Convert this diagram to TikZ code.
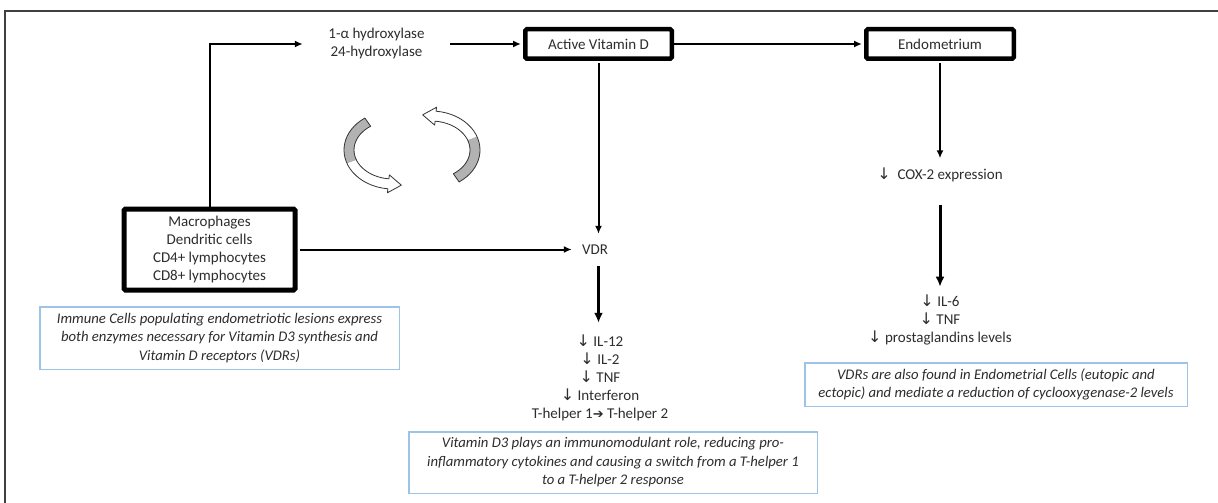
\documentclass[tikz,border=0pt]{standalone}
\usepackage{fontspec}
\setmainfont{Carlito}
\newfontfamily\symfont{DejaVu Sans}
\usetikzlibrary{arrows.meta,calc}
\definecolor{noteblue}{RGB}{157,195,230}
\definecolor{txtgray}{RGB}{45,45,45}
\newcommand{\dn}{{\symfont\fontsize{16}{18}\selectfont ↓}}
\newcommand{\rarr}{{\symfont\fontsize{13}{18}\selectfont ➔}}
\begin{document}
\begin{tikzpicture}[x=1pt,y=-1pt,
  txt/.style={font=\fontsize{15}{18}\selectfont, text=txtgray, align=center, inner sep=0pt},
  thickbox/.style={draw=black, line width=4.5pt, rounded corners=1.5pt, fill=white, align=center,
    font=\fontsize{15}{18}\selectfont, text=txtgray, inner sep=0pt},
  note/.style={draw=noteblue, line width=1.5pt, fill=white, align=center, inner sep=0pt,
    font=\fontsize{14.7}{18.5}\selectfont\itshape, text=txtgray},
  conn/.style={line width=2pt, draw=black, -{Latex[length=8pt,width=7pt]}},
  bigconn/.style={line width=3pt, draw=black, -{Latex[length=10pt,width=9pt]}},
  curvefill/.style={fill=white},
  curveshade/.style={fill=black!30},
  curveline/.style={draw=black!80, line width=0.8pt, line join=round},
]
\useasboundingbox (0,0) rectangle (1218,503);
% frame
\draw[line width=1.5pt, black!75] (5,503) -- (5,11) -- (1218,11);

% nodes
\node[txt, minimum width=147pt] (hyd) at (376.5,44) {1-α hydroxylase\\24-hydroxylase};
\node[thickbox, minimum width=146.5pt, minimum height=29.5pt] (act) at (598.5,44) {Active Vitamin D};
\node[thickbox, minimum width=147.5pt, minimum height=29.5pt] (endo) at (940,44) {Endometrium};
\node[thickbox, line width=5pt, minimum width=171pt, minimum height=81pt] (mac) at (209.5,249.5)
  {Macrophages\\Dendritic cells\\CD4+ lymphocytes\\CD8+ lymphocytes};
\node[txt, minimum width=46pt, minimum height=32pt] (vdr) at (595,250) {VDR};
\node[txt, inner ysep=12pt] (il) at (600,378)
  {\dn\ IL-12\\\dn\ IL-2\\\dn\ TNF\\\dn\ Interferon\\T-helper 1\rarr\ T-helper 2};
\node[txt, inner ysep=9.5pt] (cox) at (940,175) {\dn\ \ COX-2 expression};
\node[txt, inner ysep=8pt] (il6) at (940,320) {\dn\ IL-6\\\dn\ TNF\\\dn\ prostaglandins levels};

\node[note, minimum width=359.5pt, minimum height=62.5pt] (n1) at (219.5,338)
  {Immune Cells populating endometriotic lesions express\\both enzymes necessary for Vitamin D3 synthesis and\\Vitamin D receptors (VDRs)};
\node[note, minimum width=408.5pt, minimum height=61.5pt] (n2) at (613,462.5)
  {Vitamin D3 plays an immunomodulant role, reducing pro-\\inflammatory cytokines and causing a switch from a T-helper 1\\to a T-helper 2 response};
\node[note, minimum width=382.5pt, minimum height=43.5pt] (n3) at (996,384.5)
  {VDRs are also found in Endometrial Cells (eutopic and\\ectopic) and mediate a reduction of cyclooxygenase-2 levels};

% connectors
\draw[conn] (mac.north) |- (hyd.west);
\draw[conn, shorten >=2pt] (hyd.east) -- (act.west);
\draw[conn, shorten >=2pt] (act.east) -- (endo.west);
\draw[conn, shorten <=2pt] (act.south) -- (act.south |- vdr.north);
\draw[conn, shorten <=2pt] (mac.east) -- (mac.east -| vdr.west);
\draw[bigconn] (act.south |- vdr.south) -- (act.south |- il.north);
\draw[conn, shorten <=2pt] (endo.south) -- (endo.south |- cox.north);
\draw[bigconn, shorten <=13pt] (cox.south) -- (cox.south |- il6.north);

% circular block arrows
\coordinate (cL) at (393,150);
\coordinate (cR) at (431,150);
% left arrow
\path[curvefill] ($(cL)+(235:49 and 39)$) arc[start angle=235,end angle=96,x radius=49,y radius=39]
  -- ($(cL)+(96:53 and 43)$) -- ($(cL)+(96:44 and 34)+(6:13)$) -- ($(cL)+(96:35 and 25)$)
  -- ($(cL)+(96:39 and 29)$) arc[start angle=96,end angle=235,x radius=39,y radius=29] -- cycle;
\path[curveshade] ($(cL)+(235:49 and 39)$) arc[start angle=235,end angle=160,x radius=49,y radius=39]
  -- ($(cL)+(160:39 and 29)$) arc[start angle=160,end angle=235,x radius=39,y radius=29] -- cycle;
\path[curveline] ($(cL)+(235:49 and 39)$) arc[start angle=235,end angle=96,x radius=49,y radius=39]
  -- ($(cL)+(96:53 and 43)$) -- ($(cL)+(96:44 and 34)+(6:13)$) -- ($(cL)+(96:35 and 25)$)
  -- ($(cL)+(96:39 and 29)$) arc[start angle=96,end angle=235,x radius=39,y radius=29] -- cycle;
% right arrow
\path[curvefill] ($(cR)+(55:49 and 39)$) arc[start angle=55,end angle=-84,x radius=49,y radius=39]
  -- ($(cR)+(-84:53 and 43)$) -- ($(cR)+(-84:44 and 34)+(-174:13)$) -- ($(cR)+(-84:35 and 25)$)
  -- ($(cR)+(-84:39 and 29)$) arc[start angle=-84,end angle=55,x radius=39,y radius=29] -- cycle;
\path[curveshade] ($(cR)+(55:49 and 39)$) arc[start angle=55,end angle=-20,x radius=49,y radius=39]
  -- ($(cR)+(-20:39 and 29)$) arc[start angle=-20,end angle=55,x radius=39,y radius=29] -- cycle;
\path[curveline] ($(cR)+(55:49 and 39)$) arc[start angle=55,end angle=-84,x radius=49,y radius=39]
  -- ($(cR)+(-84:53 and 43)$) -- ($(cR)+(-84:44 and 34)+(-174:13)$) -- ($(cR)+(-84:35 and 25)$)
  -- ($(cR)+(-84:39 and 29)$) arc[start angle=-84,end angle=55,x radius=39,y radius=29] -- cycle;
\end{tikzpicture}
\end{document}
